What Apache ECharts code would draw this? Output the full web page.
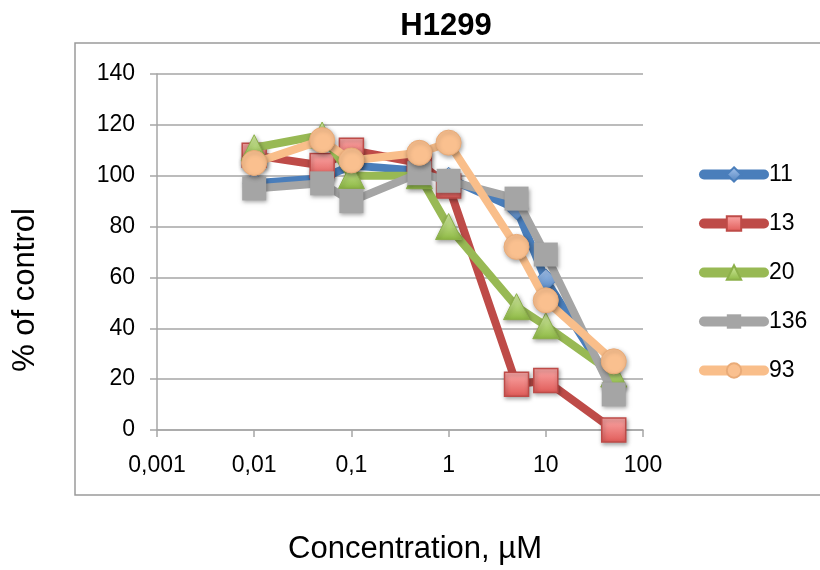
<!DOCTYPE html>
<html>
<head>
<meta charset="utf-8">
<title>H1299</title>
<script src="https://cdn.jsdelivr.net/npm/echarts@6/dist/echarts.min.js"></script>
<style>
  html, body { margin: 0; padding: 0; background: #fff; }
  #main { width: 820px; height: 570px; }
</style>
</head>
<body>
<div id="main"></div>
<script>
// concentrations (µM) shared by every series
var conc = [0.01, 0.05, 0.1, 0.5, 1, 5, 10, 50];
var seriesNames = ['11', '13', '20', '136', '93'];
var s11 = [97, 99, 104, 102, 99, 87, 59, 17];
var s13 = [108, 104, 110, 105, 96, 18, 19.5, 0];
var s20 = [111, 116, 100, 100, 80, 48.5, 41, 22];
var s136 = [95, 97, 90, 101, 98, 91, 69, 14];
var s93 = [105, 114, 106, 109, 113, 72, 51, 27];
var xTicks = ['0,001', '0,01', '0,1', '1', '10', '100'];
var yTicks = [0, 20, 40, 60, 80, 100, 120, 140];

var FONT = '"Liberation Sans", Arial, sans-serif';

function pairs(vals) {
  return conc.map(function (c, i) { return [c, vals[i]]; });
}

function grad(top, bottom) {
  return new echarts.graphic.LinearGradient(0, 0, 0, 1, [
    { offset: 0, color: top },
    { offset: 1, color: bottom }
  ]);
}

var shadow = {
  shadowBlur: 4,
  shadowColor: 'rgba(0,0,0,0.35)',
  shadowOffsetX: 1,
  shadowOffsetY: 2
};

// look of each series, Excel 2007 style
var looks = [
  { line: '#4A7EBB', symbol: 'diamond', size: 22, fill: grad('#A7C5EE', '#4F81BD'), border: '#4A7EBB', bw: 1 },
  { line: '#BE4B48', symbol: 'rect', size: 24, fill: grad('#FBA9A8', '#E05A57'), border: '#BE4B48', bw: 1.5 },
  { line: '#98B954', symbol: 'triangle', size: 26, fill: grad('#D6EEA6', '#8DB843'), border: '#8CB04A', bw: 1 },
  { line: '#A5A5A5', symbol: 'rect', size: 24, fill: '#A5A5A5', border: '#A5A5A5', bw: 0 },
  { line: '#F9BE8A', symbol: 'circle', size: 25, fill: '#FAC08F', border: '#E9AB78', bw: 1 }
];
var values = [s11, s13, s20, s136, s93];

var series = seriesNames.map(function (name, i) {
  var lk = looks[i];
  return {
    name: name,
    type: 'line',
    data: pairs(values[i]),
    symbol: lk.symbol,
    symbolSize: lk.size,
    color: lk.line,
    lineStyle: { color: lk.line, width: 8, cap: 'round', join: 'round' },
    itemStyle: Object.assign({ color: lk.fill, borderColor: lk.border, borderWidth: lk.bw }, shadow),
    emphasis: { disabled: true },
    animation: false,
    z: 2 + i
  };
});

var chart = echarts.init(document.getElementById('main'), null, { renderer: 'canvas' });
chart.setOption({
  backgroundColor: '#fff',
  animation: false,
  title: {
    text: 'H1299',
    left: 441,
    top: 6,
    textAlign: 'center',
    textStyle: { fontFamily: FONT, fontSize: 31, fontWeight: 'bold', color: '#000' }
  },
  graphic: [{
    type: 'rect',
    shape: { x: 75, y: 43, width: 760, height: 452 },
    style: { fill: 'none', stroke: '#9A9A9A', lineWidth: 1.5 },
    silent: true,
    z: -1
  }],
  legend: {
    orient: 'vertical',
    left: 694,
    top: 158,
    itemWidth: 60,
    itemHeight: 18,
    itemGap: 26,
    data: seriesNames,
    lineStyle: { width: 10, cap: 'round' },
    textStyle: { fontFamily: FONT, fontSize: 23, color: '#000' }
  },
  grid: { left: 157, right: 177, top: 74, bottom: 140 },
  xAxis: {
    type: 'log',
    logBase: 10,
    min: 0.001,
    max: 100,
    name: 'Concentration, µM',
    nameLocation: 'middle',
    nameGap: 104,
    nameTextStyle: { fontFamily: FONT, fontSize: 31, color: '#000', padding: [0, 0, 0, 30] },
    axisLine: { lineStyle: { color: '#A6A6A6', width: 1.5 } },
    axisTick: { show: true, length: 7, lineStyle: { color: '#A6A6A6', width: 1.5 } },
    splitLine: { show: false },
    axisLabel: {
      fontFamily: FONT, fontSize: 23, color: '#000', margin: 24,
      formatter: function (v) {
        var k = Math.round(Math.log(v) / Math.LN10) + 3;
        return xTicks[k] !== undefined ? xTicks[k] : '';
      }
    }
  },
  yAxis: {
    type: 'value',
    min: yTicks[0],
    max: yTicks[yTicks.length - 1],
    interval: 20,
    name: '% of control',
    nameLocation: 'middle',
    nameGap: 116,
    nameRotate: 90,
    nameTextStyle: { fontFamily: FONT, fontSize: 31, color: '#000', padding: [0, 76, 0, 0] },
    axisLine: { show: true, lineStyle: { color: '#A6A6A6', width: 1.5 } },
    axisTick: { show: true, length: 7, lineStyle: { color: '#A6A6A6', width: 1.5 } },
    splitLine: { show: true, lineStyle: { color: '#A6A6A6', width: 1.5 } },
    axisLabel: { fontFamily: FONT, fontSize: 23, color: '#000', margin: 22 }
  },
  series: series
});
</script>
</body>
</html>
